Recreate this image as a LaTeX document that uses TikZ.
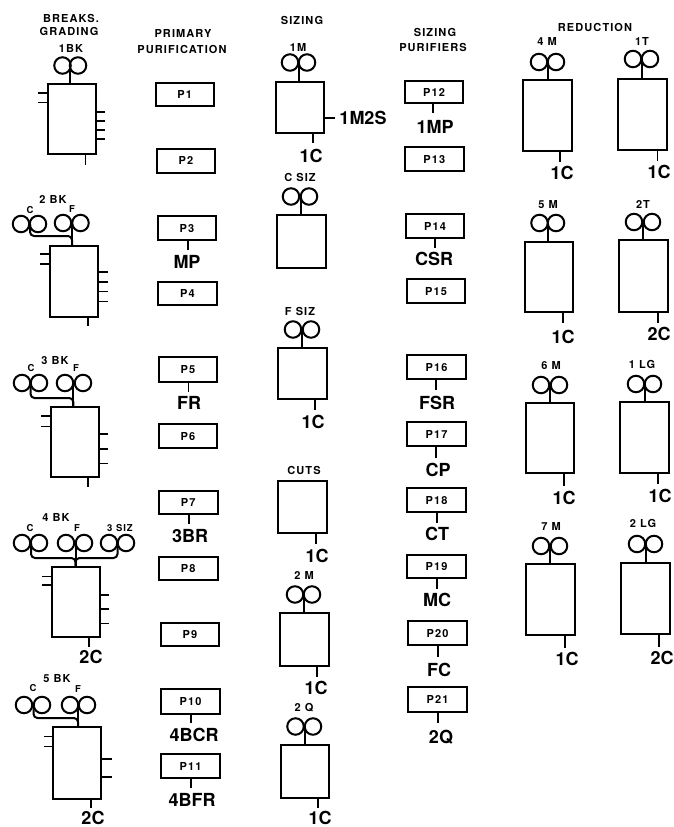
\documentclass[tikz,border=0pt]{standalone}
\usepackage{fontspec}
\setmainfont{TeX Gyre Heros}
\newfontfamily\spacedbf[LetterSpace=10]{TeX Gyre Heros}
\tikzset{
  every node/.style={inner sep=0pt,outer sep=0pt,text depth=0pt},
  millbox/.style={draw,line width=2pt},
  roll/.style={draw,circle,line width=2pt,minimum size=16.5pt},
  purbox/.style={draw,line width=2pt,font=\spacedbf\bfseries\fontsize{11}{13}\selectfont},
  heavy/.style={line width=2pt},
  thin tick/.style={line width=1.1pt},
  feed/.style={line width=2pt,rounded corners=4pt},
  head/.style={font=\spacedbf\bfseries\fontsize{11}{13}\selectfont},
  mlabel/.style={font=\spacedbf\bfseries\fontsize{11}{13}\selectfont},
  small/.style={font=\spacedbf\bfseries\fontsize{9.5}{11}\selectfont},
  big/.style={font=\bfseries\fontsize{18}{19}\selectfont},
}
\newcommand\rollpair[4]{%
  \node[roll] (#1a) at (#2,#4) {};
  \node[roll] (#1b) at (#3,#4) {};
}
\newcommand\millbody[5]{%
  \node[millbox,minimum width={(#4-#2)*1pt},minimum height={(#5-#3)*1pt}] (#1) at ({(#2+#4)/2},{(#3+#5)/2}) {};
}
% id, x1,y1,x2,y2, roll-left x, roll-right x, roll y, stem x
\newcommand\mill[9]{%
  \millbody{#1}{#2}{#3}{#4}{#5}
  \rollpair{#1}{#6}{#7}{#8}
  \coordinate (#1n) at (#9,#8);
  \draw[heavy] (#1n) -- (#1n |- #1.north);
}
% box, x end, list of y
\newcommand\ticksR[3]{\foreach \yy in {#3}{\coordinate (tk) at (#2,\yy); \draw[thin tick] (tk -| #1.east) -- (tk);}}
\newcommand\ticksL[3]{\foreach \yy in {#3}{\coordinate (tk) at (#2,\yy); \draw[thin tick] (tk -| #1.west) -- (tk);}}
% box, x, y end
\newcommand\tickB[3]{\coordinate (#1t) at (#2,#3); \draw[thin tick] (#1t |- #1.south) -- (#1t);}
\newcommand\pur[6]{\node[purbox,minimum width={(#4-#2)*1pt},minimum height={(#5-#3)*1pt}] (#1) at ({(#2+#4)/2},{(#3+#5)/2}) {#6};}
\begin{document}
\begin{tikzpicture}[x=1pt,y=-1pt]
\useasboundingbox (0,0) rectangle (674,827);
% headers
\node[head] (h1) at (71,18) {BREAKS.};
\node[head] (h2) at (69,31) {GRADING};
\node[head] (h3) at (183,33) {PRIMARY};
\node[head] (h4) at (182,49) {PURIFICATION};
\node[head] (h5) at (302,20) {SIZING};
\node[head] (h6) at (435,32) {SIZING};
\node[head] (h7) at (433,47) {PURIFIERS};
\node[head] (h8) at (595,27) {REDUCTION};
% breaks
\node[mlabel] (l1bk) at (71,48) {1BK};
\mill{bk1}{48}{84}{96}{154}{62.5}{78}{65.5}{70}
\ticksL{bk1}{38}{93,102.7}
\ticksR{bk1}{104.5}{112,121,130,139}
\tickB{bk1}{85.5}{165}

\node[mlabel] (l2bk) at (53,199) {2 BK};
\node[small] (l2c) at (30,210) {C};
\node[small] (l2f) at (72,209) {F};
\mill{bk2}{50}{245.7}{98}{316.7}{63}{80.5}{223}{72}
\rollpair{bk2c}{21}{38}{224}
\coordinate (bk2cn) at (30,224);
\draw[feed] (bk2cn) -- (30,236) -- (72,236) -- (bk2n |- bk2.north);
\ticksL{bk2}{40}{254,264}
\ticksR{bk2}{108}{272,282,291.7,301.7}
\tickB{bk2}{88}{326}

\node[mlabel] (l3bk) at (55,360) {3 BK};
\node[small] (l3c) at (31,368) {C};
\node[small] (l3f) at (76,368) {F};
\mill{bk3}{51}{406.7}{99}{477}{65}{83}{383}{73.3}
\rollpair{bk3c}{22}{39}{383}
\coordinate (bk3cn) at (30.5,383);
\draw[feed] (bk3cn) -- (30.5,398) -- (73.3,398) -- (bk3n |- bk3.north);
\ticksL{bk3}{41}{416,426.7}
\ticksR{bk3}{108}{434,449,463.7}
\tickB{bk3}{88}{487}

\node[mlabel] (l4bk) at (56,517) {4 BK};
\node[small] (l4c) at (30,528) {C};
\node[small] (l4f) at (77,528) {F};
\node[small] (l4s) at (120,528) {3 SIZ};
\mill{bk4}{52}{567}{100}{637}{66}{84}{543}{75.5}
\rollpair{bk4c}{22}{39}{543}
\rollpair{bk4s}{109}{126}{543}
\coordinate (bk4cn) at (31,543);
\coordinate (bk4sn) at (117.5,543);
\draw[feed] (bk4cn) -- (31,558) -- (75.5,558) -- (bk4n |- bk4.north);
\draw[feed] (bk4sn) -- (117.5,558) -- (75.5,558) -- (bk4n |- bk4.north);
\ticksL{bk4}{42}{576.7,585}
\ticksR{bk4}{109}{595,609,623.7}
\tickB{bk4}{89}{647}
\node[big] (l4o) at (91,657) {2C};

\node[mlabel] (l5bk) at (57,678) {5 BK};
\node[small] (l5c) at (33,688) {C};
\node[small] (l5f) at (78,689) {F};
\mill{bk5}{53}{727}{101}{799}{70}{87}{705}{78}
\rollpair{bk5c}{24}{42}{705}
\coordinate (bk5cn) at (33.5,705);
\draw[feed] (bk5cn) -- (33.5,718) -- (78,718) -- (bk5n |- bk5.north);
\ticksL{bk5}{44}{736.7,746.7}
\ticksR{bk5}{112}{759,777}
\tickB{bk5}{91}{808}
\node[big] (l5o) at (93,817.5) {2C};
% primary purification
\pur{P1}{156}{83}{213.5}{105.7}{P1}
\pur{P2}{157}{149}{215}{172.7}{P2}
\pur{P3}{158}{216}{216}{240}{P3}
\pur{P4}{158}{281.7}{217}{305}{P4}
\pur{P5}{159}{357}{217}{382}{P5}
\pur{P6}{159}{424}{217}{448}{P6}
\pur{P7}{159}{491}{217.5}{514}{P7}
\pur{P8}{159}{556.7}{217.5}{580}{P8}
\pur{P9}{161}{623}{219}{646}{P9}
\pur{P10}{161}{689}{220}{714}{P10}
\pur{P11}{161}{754}{220}{778}{P11}
\tickB{P3}{188}{250}   \node[big] (o3) at (187,261.7) {MP};
\tickB{P5}{188.5}{392} \node[big] (o5) at (189,403) {FR};
\tickB{P7}{189}{524}   \node[big] (o7) at (190,536) {3BR};
\tickB{P10}{191}{723}  \node[big] (o10) at (194,735) {4BCR};
\tickB{P11}{191}{788}  \node[big] (o11) at (192,800) {4BFR};
% sizing
\node[mlabel] (l1m) at (298,47) {1M};
\mill{m1}{275.7}{82}{324}{133}{290}{307}{62.5}{299}
\coordinate (m1r) at (335,118);
\draw[thin tick] (m1r -| m1.east) -- (m1r);
\node[big] (o1m2s) at (363,118) {1M2S};
\tickB{m1}{313}{143} \node[big] (om1) at (311,156) {1C};

\node[mlabel] (lcs) at (300,177) {C SIZ};
\mill{cs}{277}{215}{326}{268}{291}{309}{196.5}{300.5}

\node[mlabel] (lfs) at (300,311) {F SIZ};
\mill{fs}{278}{348}{327}{399}{293}{311}{329.5}{302}
\tickB{fs}{315}{410} \node[big] (ofs) at (313,422) {1C};

\node[head] (lcu) at (304,470) {CUTS};
\millbody{cu}{278}{481}{327}{533}
\tickB{cu}{316}{544} \node[big] (ocu) at (317,556) {1C};

\node[mlabel] (l2m) at (304,575) {2 M};
\mill{m2}{280}{613}{329}{666}{295}{312}{594.5}{304}
\tickB{m2}{317}{677} \node[big] (om2) at (316,688) {1C};

\node[mlabel] (l2q) at (304,707) {2 Q};
\mill{q2}{281}{745}{329}{798}{295.5}{313}{726.5}{305}
\tickB{q2}{318}{808} \node[big] (oq2) at (320,817.5) {1C};
% sizing purifiers
\pur{P12}{405}{81}{463}{103}{P12}
\pur{P13}{405}{147}{463.5}{171}{P13}
\pur{P14}{406}{214}{464}{238}{P14}
\pur{P15}{407}{279}{465}{303}{P15}
\pur{P16}{407}{355}{466}{379}{P16}
\pur{P17}{407}{422}{466}{446}{P17}
\pur{P18}{407}{488}{466}{512}{P18}
\pur{P19}{407}{555}{466}{578}{P19}
\pur{P20}{408}{621}{467}{645}{P20}
\pur{P21}{408}{687}{467}{712}{P21}
\tickB{P12}{433}{113} \node[big] (o12) at (435,127) {1MP};
\tickB{P14}{435}{248} \node[big] (o14) at (434,259) {CSR};
\tickB{P16}{436}{390} \node[big] (o16) at (437,403) {FSR};
\tickB{P17}{436}{458} \node[big] (o17) at (438,470) {CP};
\tickB{P18}{437}{523} \node[big] (o18) at (437,534) {CT};
\tickB{P19}{437}{589} \node[big] (o19) at (437,600) {MC};
\tickB{P20}{438}{657} \node[big] (o20) at (439,670) {FC};
\tickB{P21}{438}{723} \node[big] (o21) at (441,737) {2Q};
% reduction
\node[mlabel] (l4m) at (547,41) {4 M};
\mill{m4}{523}{80}{572}{151}{539}{556}{62}{547.5}
\tickB{m4}{560}{162} \node[big] (om4) at (562,173) {1C};
\node[mlabel] (l1t) at (642,41) {1T};
\mill{t1}{618}{79}{667}{150}{633}{650}{59}{642}
\tickB{t1}{657.5}{161} \node[big] (ot1) at (659,172) {1C};
\node[mlabel] (l5m) at (548,204) {5 M};
\mill{m5}{525}{242}{573}{312}{539.5}{556}{223}{548}
\tickB{m5}{563}{323} \node[big] (om5) at (563,337) {1C};
\node[mlabel] (l2t) at (643,204) {2T};
\mill{t2}{619}{240}{668}{312}{634}{652}{222}{643}
\tickB{t2}{658}{323} \node[big] (ot2) at (659,334) {2C};
\node[mlabel] (l6m) at (551,365) {6 M};
\mill{m6}{526}{403}{574}{473}{541}{559}{385}{550}
\tickB{m6}{564}{486} \node[big] (om6) at (564,498) {1C};
\node[mlabel] (l1lg) at (642,364) {1 LG};
\mill{lg1}{620}{402}{669}{473}{636}{653}{384}{645}
\tickB{lg1}{658}{484} \node[big] (olg1) at (660,496) {1C};
\node[mlabel] (l7m) at (551,526) {7 M};
\mill{m7}{526}{564}{575}{635}{541}{559}{546}{550}
\tickB{m7}{565}{648} \node[big] (om7) at (567,659) {1C};
\node[mlabel] (l2lg) at (643,523) {2 LG};
\mill{lg2}{621}{563}{670}{634}{637}{654}{544}{646}
\tickB{lg2}{659}{647} \node[big] (olg2) at (662,658) {2C};
\end{tikzpicture}
\end{document}
